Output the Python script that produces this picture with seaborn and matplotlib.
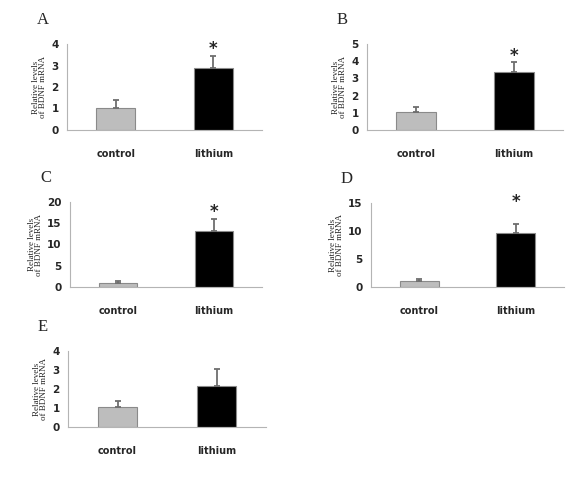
import pandas as pd
import seaborn as sns
import matplotlib.pyplot as plt

# Groups and panel data
groups = ['control', 'lithium']
panel_names = ['A', 'B', 'C', 'D', 'E']
means = {
    'A': [1.0, 2.87],
    'B': [1.02, 3.35],
    'C': [1.0, 13.1],
    'D': [1.0, 9.65],
    'E': [1.04, 2.17],
}
errors = {
    'A': [0.38, 0.57],
    'B': [0.30, 0.62],
    'C': [0.48, 3.0],
    'D': [0.48, 1.65],
    'E': [0.35, 0.88],
}
y_max = {'A': 4, 'B': 5, 'C': 20, 'D': 15, 'E': 4}
y_step = {'A': 1, 'B': 1, 'C': 5, 'D': 5, 'E': 1}
# height of the significance star (None = no star)
star_height = {'A': 3.75, 'B': 4.3, 'C': 17.6, 'D': 15.2, 'E': None}

# axes boxes in pixels: left, right, top, bottom
boxes = {
    'A': (67, 262, 44, 130),
    'B': (367, 563, 44, 130),
    'C': (70, 262, 202, 287),
    'D': (371, 564, 203, 287),
    'E': (68, 266, 351, 427),
}

W, H = 585, 498
sns.set_style('white')
fig = plt.figure(figsize=(W / 100, H / 100), dpi=100)

bar_colors = ['#bdbdbd', '#000000']
axis_gray = '#b4b4b4'

for name in panel_names:
    l, r, t, b = boxes[name]
    ax = fig.add_axes([l / W, 1 - b / H, (r - l) / W, (b - t) / H])
    df = pd.DataFrame({'group': groups, 'value': means[name]})
    sns.barplot(data=df, x='group', y='value', hue='group', palette=bar_colors,
                width=0.4, edgecolor='#8a8a8a', linewidth=0.8, legend=False, ax=ax)
    # upper-only error bars, Excel style
    ax.errorbar(range(len(groups)), means[name],
                yerr=[[0] * len(groups), errors[name]], fmt='none',
                ecolor='#6e6e6e', elinewidth=1.3, capsize=2.2, capthick=1.3)
    if star_height[name] is not None:
        ax.text(1, star_height[name], '*', ha='center', va='center',
                fontsize=12, fontweight='bold', family='DejaVu Sans')

    ax.set_xlim(-0.5, 1.5)
    ax.set_ylim(0, y_max[name])
    ax.set_yticks(range(0, y_max[name] + 1, y_step[name]))
    ax.tick_params(axis='y', length=3, width=0.8, color=axis_gray, pad=3,
                   labelsize=7.5)
    for lab in ax.get_yticklabels():
        lab.set_fontweight('bold')
    ax.set_xticks([0, 1])
    ax.set_xticklabels(groups, fontsize=7, fontweight='bold')
    ax.set_xticks([-0.5, 0.5, 1.5], minor=True)
    ax.tick_params(axis='x', which='major', length=0, pad=14)
    ax.tick_params(axis='x', which='minor', length=3, width=0.8, color=axis_gray)
    for s in ['top', 'right']:
        ax.spines[s].set_visible(False)
    for s in ['left', 'bottom']:
        ax.spines[s].set_color(axis_gray)
        ax.spines[s].set_linewidth(0.8)

    ax.set_xlabel('')
    ax.set_ylabel('Relative levels\nof BDNF mRNA', family='Liberation Serif',
                  fontsize=6.5, linespacing=0.85, labelpad=3)
    # panel letter
    fig.text((l - 30) / W, 1 - (t - 24) / H, name, family='Liberation Serif',
             fontsize=12, ha='left', va='center')

plt.savefig('out.png', dpi=100)
